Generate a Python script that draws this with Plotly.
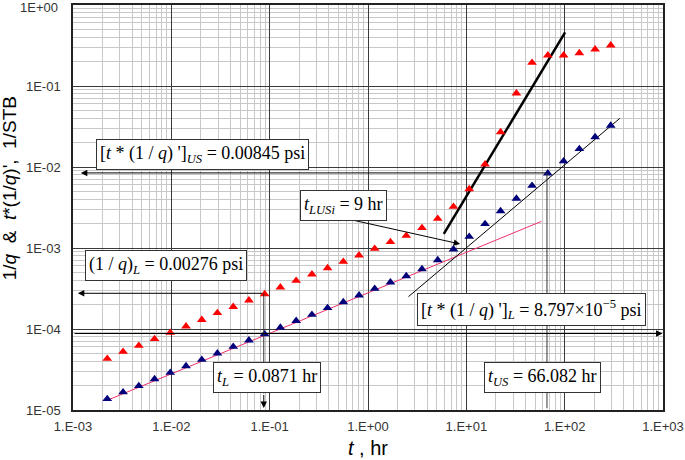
import math
import plotly.graph_objects as go

# time, hr
t_hr = [0.00223, 0.00323, 0.00467, 0.00675, 0.00975, 0.0141, 0.0204, 0.0294, 0.0426,
        0.0615, 0.0889, 0.1285, 0.186, 0.269, 0.388, 0.561, 0.811, 1.17, 1.69, 2.45,
        3.54, 5.12, 7.40, 10.7, 15.5, 22.3, 32.3, 46.6, 67.4, 97.5, 141, 204, 294]

# 1/q (red)
inv_q = [4.30e-5, 5.25e-5, 6.22e-5, 7.53e-5, 9.00e-5, 1.08e-4, 1.30e-4, 1.58e-4, 1.88e-4,
         2.26e-4, 2.70e-4, 3.27e-4, 3.95e-4, 4.73e-4, 5.66e-4, 6.78e-4, 8.13e-4, 9.80e-4,
         1.19e-3, 1.42e-3, 1.77e-3, 2.30e-3, 3.24e-3, 5.35e-3, 1.08e-2, 2.70e-2, 8.13e-2,
         0.194, 0.239, 0.239, 0.255, 0.284, 0.318]

# t*(1/q)' (blue)
inv_q_deriv = [1.37e-5, 1.66e-5, 1.98e-5, 2.41e-5, 2.89e-5, 3.49e-5, 4.18e-5, 5.01e-5, 6.04e-5,
               7.25e-5, 8.63e-5, 1.04e-4, 1.26e-4, 1.50e-4, 1.82e-4, 2.15e-4, 2.61e-4, 3.15e-4,
               3.77e-4, 4.51e-4, 5.50e-4, 7.11e-4, 9.64e-4, 1.38e-3, 1.98e-3, 2.86e-3, 4.08e-3,
               5.88e-3, 8.36e-3, 1.18e-2, 1.67e-2, 2.34e-2, 3.25e-2]

# straight-line fits
half_slope_t = [0.0022, 58]
half_slope_y = [1.31e-5, 2.13e-3]
unit_slope_t = [2.58, 364]
unit_slope_y = [2.51e-4, 3.99e-2]
two_slope_t = [5.9, 101]
two_slope_y = [1.49e-3, 0.46]

# characteristic values
t_L = 0.0871
inv_q_L = 2.76e-4
deriv_L = 8.797e-5
t_US = 66.082
deriv_US = 0.00845

x_ticks = [1e-3, 1e-2, 1e-1, 1e0, 1e1, 1e2, 1e3]
x_labels = ["1.E-03", "1.E-02", "1.E-01", "1.E+00", "1.E+01", "1.E+02", "1.E+03"]
y_ticks = [1e-5, 1e-4, 1e-3, 1e-2, 1e-1, 1e0]
y_labels = ["1E-05", "1E-04", "1E-03", "1E-02", "1E-01", "1E+00"]

lg = math.log10

fig = go.Figure()

fig.add_trace(go.Scatter(x=half_slope_t, y=half_slope_y, mode="lines",
                         line=dict(color="#f0306a", width=1), showlegend=False))
fig.add_trace(go.Scatter(x=unit_slope_t, y=unit_slope_y, mode="lines",
                         line=dict(color="black", width=1), showlegend=False))
fig.add_trace(go.Scatter(x=two_slope_t, y=two_slope_y, mode="lines",
                         line=dict(color="black", width=2.5), showlegend=False))

fig.add_trace(go.Scatter(x=t_hr, y=inv_q, mode="markers",
                         marker=dict(symbol="triangle-up", size=8.5, color="#ff0000"),
                         showlegend=False))
fig.add_trace(go.Scatter(x=t_hr, y=inv_q_deriv, mode="markers",
                         marker=dict(symbol="triangle-up", size=8.5, color="#00007a"),
                         showlegend=False))

# guide lines (no heads)
fig.add_shape(type="line", x0=t_US, x1=t_US, y0=deriv_US, y1=1.05e-5,
              line=dict(color="#333", width=1))
fig.add_shape(type="line", x0=t_L, x1=t_L, y0=inv_q_L, y1=1.6e-5,
              line=dict(color="#333", width=1))

def arrow(x_head, y_head, x_tail, y_tail):
    fig.add_annotation(x=lg(x_head), y=lg(y_head), ax=lg(x_tail), ay=lg(y_tail),
                       xref="x", yref="y", axref="x", ayref="y", text="",
                       showarrow=True, arrowhead=2, arrowsize=1.3, arrowwidth=1,
                       arrowcolor="black")

arrow(1.2e-3, deriv_US, t_US, deriv_US)
arrow(1.12e-3, inv_q_L, t_L, inv_q_L)
arrow(t_L, 1.06e-5, t_L, 1.6e-5)
arrow(0.99e3, deriv_L, 1e-3, deriv_L)
arrow(8.65, 1.12e-3, 0.689, 2.22e-3)

box = dict(xref="x", yref="y", showarrow=False, bgcolor="white", bordercolor="#333",
           borderwidth=1, borderpad=3,
           font=dict(family="Liberation Serif", size=18, color="black"))

fig.add_annotation(x=-1.683, y=-1.846,
                   text="[<i>t</i> * (1 / <i>q</i>) ']<sub><i>US</i></sub> = 0.00845 psi", **box)
fig.add_annotation(x=-0.248, y=-2.481,
                   text="<i>t<sub>LUSi</sub></i> = 9 hr", **box)
fig.add_annotation(x=-2.054, y=-3.222,
                   text="(1 / <i>q</i>)<sub><i>L</i></sub> = 0.00276 psi", **box)
fig.add_annotation(x=1.664, y=-3.765,
                   text="[<i>t</i> * (1 / <i>q</i>) ']<sub><i>L</i></sub> = 8.797×10<sup>−5</sup> psi", **box)
fig.add_annotation(x=-1.032, y=-4.593,
                   text="<i>t<sub>L</sub></i> = 0.0871 hr", **box)
fig.add_annotation(x=1.771, y=-4.593,
                   text="<i>t<sub>US</sub></i> = 66.082 hr", **box)

# axis titles
fig.add_annotation(xref="paper", yref="paper", x=-0.108, y=0.548, textangle=-90,
                   showarrow=False, xanchor="center", yanchor="middle",
                   text="1/<i>q</i>  &  <i>t</i>*(1/<i>q</i>)',  1/STB",
                   font=dict(family="Liberation Sans", size=19, color="black"))
fig.add_annotation(xref="paper", yref="paper", x=0.5, y=-0.094,
                   showarrow=False, xanchor="center", yanchor="middle",
                   text="<i>t</i> , hr",
                   font=dict(family="Liberation Sans", size=20, color="black"))

tick_font = dict(family="Liberation Sans", size=13, color="#333")

# top y label drawn separately so it is not clipped by the page edge
fig.add_annotation(xref="paper", yref="y", x=-0.022, y=lg(y_ticks[-1]), yshift=-2,
                   showarrow=False, xanchor="right", yanchor="middle",
                   text=y_labels[-1], font=tick_font)

grid_major = "#3a3a3a"
grid_minor = "#c8c8c8"

axis_style = dict(type="log", showgrid=True, gridcolor=grid_major, gridwidth=1,
                  minor=dict(dtick="D1", showgrid=True, gridcolor=grid_minor, gridwidth=1),
                  showline=True, mirror=True, linecolor="#222", linewidth=1.5,
                  ticks="", zeroline=False, automargin=False, ticklabeloverflow="allow",
                  tickfont=tick_font)

fig.update_xaxes(range=[-3, 3], tickvals=x_ticks, ticktext=x_labels,
                 ticklabelstandoff=4, **axis_style)
fig.update_yaxes(range=[-5, 0], tickvals=y_ticks[:-1], ticktext=y_labels[:-1],
                 ticklabelstandoff=8, **axis_style)

fig.update_layout(width=685, height=460, margin=dict(l=73, r=22, t=5, b=50),
                  plot_bgcolor="white", paper_bgcolor="white")

# drop the default page margin so the figure sits at the window's corner
fig.write_html("out.html", config={"displayModeBar": False},
               post_script="document.body.style.margin='0';")
